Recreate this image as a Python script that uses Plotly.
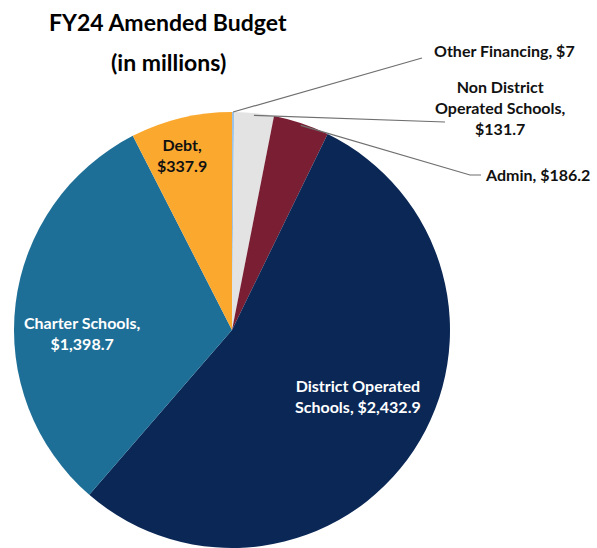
import math
import plotly.graph_objects as go

labels = ["Other Financing", "Non District Operated Schools", "Admin",
          "District Operated Schools", "Charter Schools", "Debt"]
values = [7, 131.7, 186.2, 2432.9, 1398.7, 337.9]
value_text = ["$7", "$131.7", "$186.2", "$2,432.9", "$1,398.7", "$337.9"]
colors = ["#9cc3e5", "#e3e3e3", "#7a1f33", "#0a2756", "#1e6f97", "#fba82f"]

W, H = 597, 548
CX, CY, R = 232, 330, 218
FONT = "Lato"

fig = go.Figure(go.Pie(
    labels=labels, values=values, sort=False, direction="clockwise", rotation=0,
    marker=dict(colors=colors, line=dict(width=0)),
    textinfo="none", hoverinfo="label+value", showlegend=False,
    domain=dict(x=[(CX - R) / W, (CX + R) / W], y=[1 - (CY + R) / H, 1 - (CY - R) / H]),
))

total = sum(values)
def edge_point(i, rr=1.0):
    start = sum(values[:i])
    mid = (start + values[i] / 2) / total * 2 * math.pi
    return CX + R * rr * math.sin(mid), CY - R * rr * math.cos(mid)

def px(x):
    return x / W
def py(y):
    return 1 - y / H

annotations = []
def ann(text, x, y, color, xanchor="center", size=16):
    annotations.append(dict(text=text, x=px(x), y=py(y), xref="paper", yref="paper",
                            showarrow=False, xanchor=xanchor, yanchor="middle",
                            font=dict(family=FONT, size=size, color=color)))

# Title
ann("<b>FY24 Amended Budget</b>", 168, 22, "#000000", size=23)
ann("<b>(in millions)</b>", 168, 62, "#000000", size=23)

# Inside labels
ann(f"<b>{labels[5]},<br>{value_text[5]}</b>", 182, 155, "#111111")
ann(f"<b>{labels[4]},<br>{value_text[4]}</b>", 82, 333, "#ffffff")
ann(f"<b>District Operated<br>{labels[3].split()[-1]}, {value_text[3]}</b>", 358, 396, "#ffffff")

# Outside labels
ann(f"<b>{labels[0]}, {value_text[0]}</b>", 504, 50, "#111111")
ann(f"<b>Non District<br>Operated Schools,<br>{value_text[1]}</b>", 500, 108, "#111111")
ann(f"<b>{labels[2]}, {value_text[2]}</b>", 483, 175, "#111111", xanchor="left")

# Leader lines
shapes = []
def line(points):
    path = "M " + " L ".join(f"{px(x)},{py(y)}" for x, y in points)
    shapes.append(dict(type="path", path=path, xref="paper", yref="paper",
                       line=dict(color="#6f6f6f", width=1.2)))

x0, y0 = edge_point(0)
line([(x0, y0), (422, 58)])
x1, y1 = edge_point(1, 0.99)
line([(x1, y1), (445, 122)])
x2, y2 = edge_point(2, 0.99)
line([(x2, y2), (470, 175), (481, 175)])

fig.update_layout(width=W, height=H, margin=dict(l=0, r=0, t=0, b=0),
                  paper_bgcolor="#ffffff", plot_bgcolor="#ffffff",
                  annotations=annotations, shapes=shapes)
fig.write_html("out.html", config={"displayModeBar": False},
               post_script="document.body.style.margin='0';document.body.style.overflow='hidden';")
